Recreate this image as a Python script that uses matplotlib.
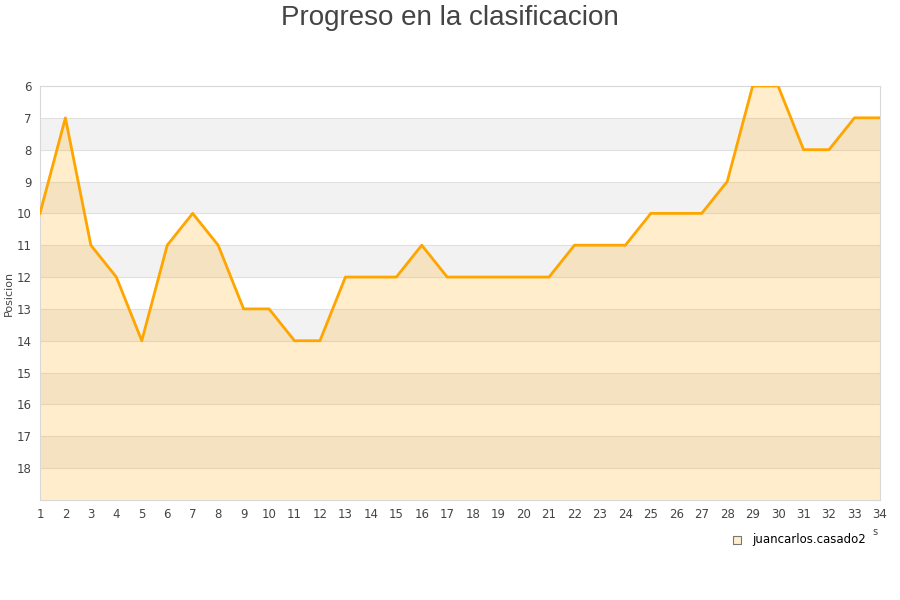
import numpy as np
import matplotlib.pyplot as plt

jornadas = np.arange(1, 35)
posicion = [10, 7, 11, 12, 14, 11, 10, 11, 13, 13, 14, 14, 12, 12, 12, 11, 12,
            12, 12, 12, 12, 11, 11, 11, 10, 10, 10, 9, 6, 6, 8, 8, 7, 7]
jugador = "juancarlos.casado2"

fig = plt.figure(figsize=(9, 6), dpi=100)
ax = fig.add_axes([0.0444, 0.1667, 0.9333, 0.69])

y_min, y_max = 6, 19

# bandas alternas
for k in range(y_min, y_max):
    if k % 2 == 1:
        ax.axhspan(k, k + 1, color="#F2F2F2", zorder=0, lw=0)
for k in range(y_min + 1, y_max):
    ax.axhline(k, color="#E0E0E0", lw=0.8, zorder=1)

ax.fill_between(jornadas, posicion, y_max, color="#FFA500", alpha=0.2, lw=0, zorder=2)
ax.plot(jornadas, posicion, color="#FFA500", lw=2.0, zorder=3)

ax.set_xlim(1, 34)
ax.set_ylim(y_max, y_min)
ax.set_xticks(jornadas)
ax.set_yticks(range(6, 19))
ax.tick_params(length=0, labelsize=8.5, colors="#444444", pad=6)
for s in ax.spines.values():
    s.set_color("#D8D8D8")

ax.set_ylabel("Posicion", fontsize=8, color="#444444", labelpad=2)
fig.text(0.5, 0.992, "Progreso en la clasificacion", ha="center", va="top",
         fontsize=20, color="#444444", family="Liberation Sans")
fig.text(0.972, 0.108, "s", fontsize=7, color="#444444", ha="center")

ax.scatter([], [], marker="s", s=40, color="#FFEDCC", edgecolor="#777777",
           lw=0.8, label=jugador)
ax.legend(loc="upper right", bbox_to_anchor=(0.99, -0.065), frameon=False,
          fontsize=8.5, handletextpad=0.3, borderpad=0)

fig.savefig("out.png", dpi=100)
